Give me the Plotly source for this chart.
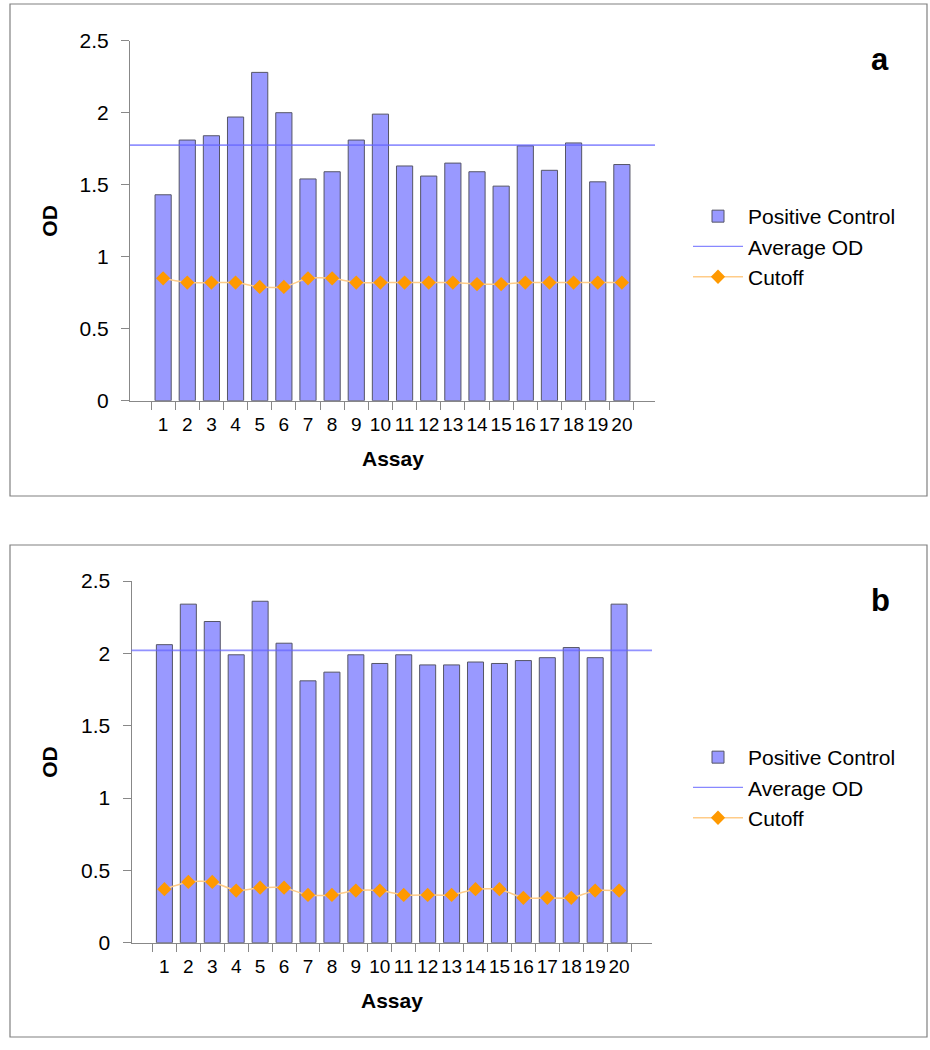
import plotly.graph_objects as go

assays = [str(i) for i in range(1, 21)]

pc_a = [1.43, 1.81, 1.84, 1.97, 2.28, 2.00, 1.54, 1.59, 1.81, 1.99,
        1.63, 1.56, 1.65, 1.59, 1.49, 1.77, 1.60, 1.79, 1.52, 1.64]
cut_a = [0.85, 0.82, 0.82, 0.82, 0.79, 0.79, 0.85, 0.85, 0.82, 0.82,
         0.82, 0.82, 0.82, 0.81, 0.81, 0.82, 0.82, 0.82, 0.82, 0.82]
avg_a = 1.775

pc_b = [2.06, 2.34, 2.22, 1.99, 2.36, 2.07, 1.81, 1.87, 1.99, 1.93,
        1.99, 1.92, 1.92, 1.94, 1.93, 1.95, 1.97, 2.04, 1.97, 2.34]
cut_b = [0.37, 0.42, 0.42, 0.36, 0.38, 0.38, 0.33, 0.33, 0.36, 0.36,
         0.33, 0.33, 0.33, 0.37, 0.37, 0.31, 0.31, 0.31, 0.36, 0.36]
avg_b = 2.02

y_ticks = [0, 0.5, 1, 1.5, 2, 2.5]
panel_labels = ["a", "b"]

W, H = 930, 1050
FONT = "Arial, Liberation Sans, sans-serif"
BAR = "#9999FF"
AVG = "rgba(100,100,255,0.7)"
CUT_LINE = "#FFCC88"
CUT_MK = "#FF9900"

def px(x):
    return x / W

def py(y):
    return 1 - y / H

fig = go.Figure()

panels = [
    dict(pc=pc_a, cut=cut_a, avg=avg_a, xa="x", ya="y", leg="legend",
         xd=(130, 655), yd=(40.7, 400.7), box=(4, 496), lab=panel_labels[0]),
    dict(pc=pc_b, cut=cut_b, avg=avg_b, xa="x2", ya="y2", leg="legend2",
         xd=(131.5, 652), yd=(581, 942.7), box=(545, 1037), lab=panel_labels[1]),
]

shapes = []
annotations = []
for i, p in enumerate(panels):
    fig.add_trace(go.Bar(
        x=assays, y=p["pc"], name="Positive Control",
        marker=dict(color=BAR, line=dict(color="#555566", width=1)),
        xaxis=p["xa"], yaxis=p["ya"], legend=p["leg"], width=0.67,
    ))
    fig.add_trace(go.Scatter(
        x=[None], y=[None], mode="lines", name="Average OD",
        line=dict(color="#8888FF", width=1.2),
        xaxis=p["xa"], yaxis=p["ya"], legend=p["leg"],
    ))
    fig.add_trace(go.Scatter(
        x=assays, y=p["cut"], mode="lines+markers", name="Cutoff",
        line=dict(color=CUT_LINE, width=1.5, shape="spline", smoothing=0.6),
        marker=dict(symbol="diamond", size=11, color=CUT_MK),
        xaxis=p["xa"], yaxis=p["ya"], legend=p["leg"],
    ))
    shapes.append(dict(
        type="line", xref=f"{p['xa']} domain", yref=p["ya"],
        x0=0, x1=1, y0=p["avg"], y1=p["avg"],
        line=dict(color=AVG, width=1.8), layer="above",
    ))
    shapes.append(dict(
        type="rect", xref="paper", yref="paper",
        x0=px(10), x1=px(927), y0=py(p["box"][1]), y1=py(p["box"][0]),
        line=dict(color="#808080", width=1.2), fillcolor="rgba(0,0,0,0)",
    ))
    ymid = (p["yd"][0] + p["yd"][1]) / 2
    xmid = (p["xd"][0] + p["xd"][1]) / 2
    annotations.append(dict(
        text="<b>OD</b>", xref="paper", yref="paper", x=px(50), y=py(ymid),
        showarrow=False, textangle=-90, font=dict(size=21, color="black", family=FONT),
        xanchor="center", yanchor="middle",
    ))
    annotations.append(dict(
        text="<b>Assay</b>", xref="paper", yref="paper", x=px(xmid),
        y=py(p["yd"][1] + 58), showarrow=False,
        font=dict(size=21, color="black", family=FONT),
        xanchor="center", yanchor="middle",
    ))
    annotations.append(dict(
        text=f"<b>{p['lab']}</b>", xref="paper", yref="paper", x=px(880),
        y=py(p["box"][0] + 55), showarrow=False,
        font=dict(size=31, color="black", family=FONT),
        xanchor="center", yanchor="middle",
    ))

axis_common_x = dict(
    type="category", tickson="boundaries", ticks="outside", ticklen=8,
    tickcolor="#888888", showline=True, linecolor="#888888", linewidth=1,
    showgrid=False, zeroline=False, automargin=False,
    tickmode="array", tickvals=assays, ticktext=assays, tickangle=0,
    tickfont=dict(size=19, color="black", family=FONT), ticklabelstandoff=6,
)
axis_common_y = dict(
    range=[0, 2.5], tickvals=y_ticks, ticks="outside", ticklen=8,
    tickcolor="#888888", showline=True, linecolor="#888888", linewidth=1,
    showgrid=False, zeroline=False, automargin=False,
    tickfont=dict(size=21, color="black", family=FONT), ticklabelstandoff=8,
)

fig.update_layout(
    width=W, height=H,
    margin=dict(l=0, r=0, t=0, b=0),
    paper_bgcolor="white", plot_bgcolor="white",
    font=dict(family=FONT, color="black"),
    bargap=0.33,
    xaxis=dict(domain=[px(130), px(655)], anchor="y", **axis_common_x),
    yaxis=dict(domain=[py(400.7), py(40.7)], anchor="x", **axis_common_y),
    xaxis2=dict(domain=[px(131.5), px(652)], anchor="y2", **axis_common_x),
    yaxis2=dict(domain=[py(942.7), py(581)], anchor="x2", **axis_common_y),
    legend=dict(x=px(688), y=py(196), xanchor="left", yanchor="top",
                font=dict(size=21, color="black", family=FONT),
                bgcolor="rgba(0,0,0,0)", itemwidth=50, tracegroupgap=0),
    legend2=dict(x=px(688), y=py(737), xanchor="left", yanchor="top",
                 font=dict(size=21, color="black", family=FONT),
                 bgcolor="rgba(0,0,0,0)", itemwidth=50, tracegroupgap=0),
    shapes=shapes,
    annotations=annotations,
)

fig.write_html(
    "out.html",
    config={"displayModeBar": False},
    post_script="document.body.style.margin='0px';document.body.style.overflow='hidden';",
)
